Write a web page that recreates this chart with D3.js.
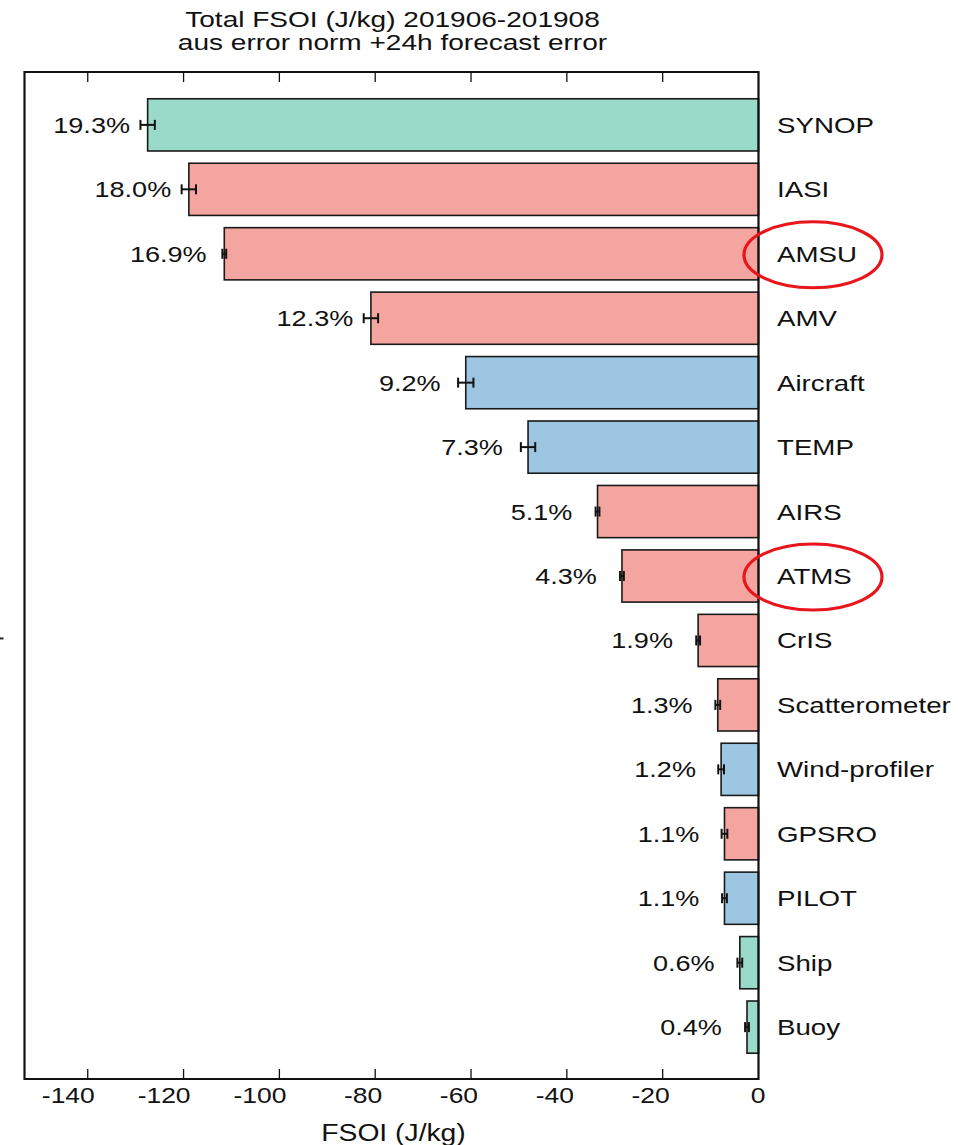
<!DOCTYPE html>
<html>
<head>
<meta charset="utf-8">
<script src="https://cdn.jsdelivr.net/npm/d3@7"></script>
<style>
  body { margin: 0; background: #fff; }
  svg { display: block; }
  text { font-family: "Liberation Sans", Arial, sans-serif; fill: #111; }
</style>
</head>
<body>
<div id="graph_01"></div>
<script>
// Données
const categories = ['SYNOP', 'IASI', 'AMSU', 'AMV', 'Aircraft', 'TEMP', 'AIRS', 'ATMS', 'CrIS',
  'Scatterometer', 'Wind-profiler', 'GPSRO', 'PILOT', 'Ship', 'Buoy'];
const fsoi = [-127.5, -118.9, -111.5, -80.9, -61.1, -48.1, -33.6, -28.5, -12.6, -8.5, -7.8, -7.1, -7.1, -3.9, -2.4];
const errors = [1.5, 1.5, 0.4, 1.5, 1.6, 1.5, 0.4, 0.4, 0.4, 0.5, 0.6, 0.6, 0.5, 0.5, 0.4];
const pctLabels = ['19.3%', '18.0%', '16.9%', '12.3%', '9.2%', '7.3%', '5.1%', '4.3%', '1.9%',
  '1.3%', '1.2%', '1.1%', '1.1%', '0.6%', '0.4%'];
const groups = ['surface', 'sat', 'sat', 'sat', 'upper', 'upper', 'sat', 'sat', 'sat',
  'sat', 'upper', 'sat', 'upper', 'surface', 'surface'];
const highlighted = ['AMSU', 'ATMS'];
const xTicks = [-140, -120, -100, -80, -60, -40, -20, 0];
const titleLines = ['Total FSOI (J/kg) 201906-201908', 'aus error norm +24h forecast error'];
const xTitle = 'FSOI (J/kg)';

const data = categories.map((c, i) => ({
  cat: c, value: fsoi[i], err: errors[i], pct: pctLabels[i], group: groups[i]
}));

//---------------------------------------------------------------------------------------

const width = 958;
const height = 1145;
const frame = { left: 24.5, right: 758.5, top: 72, bottom: 1079 };
const stretch = 1.23; // le texte de l'image d'origine est étiré horizontalement

const svg = d3.select('#graph_01')
  .append('svg')
  .attr('width', width)
  .attr('height', height);

const scaleX = d3.scaleLinear()
  .domain([-153.2, 0])
  .range([frame.left, frame.right]);

const scaleY = d3.scaleBand()
  .domain(categories)
  .range([frame.top + 1, frame.bottom])
  .paddingInner(0.19)
  .paddingOuter(0.4);

const colour = d3.scaleOrdinal()
  .domain(['surface', 'sat', 'upper'])
  .range(['#99dac8', '#f4a5a0', '#9cc6e2']);

// texte étiré
function stretchedText(sel, x, y) {
  return sel.attr('transform', `translate(${x},${y}) scale(${stretch},1)`);
}

//---------------------------------------------------------------------------------------

// Titre
svg.append('g')
  .selectAll('text')
  .data(titleLines)
  .join('text')
  .attr('text-anchor', 'middle')
  .attr('font-size', 22.8)
  .each(function(d, i) {
    stretchedText(d3.select(this), (frame.left + frame.right) / 2 + 1, 26.5 + i * 23.5);
  })
  .text(d => d);

//---------------------------------------------------------------------------------------

// Barres
svg.append('g')
  .selectAll('rect')
  .data(data)
  .join('rect')
  .attr('x', d => scaleX(d.value))
  .attr('y', d => scaleY(d.cat))
  .attr('width', d => scaleX(0) - scaleX(d.value))
  .attr('height', scaleY.bandwidth())
  .attr('fill', d => colour(d.group))
  .attr('stroke', '#1a1a1a')
  .attr('stroke-width', 1.6);

// Barres d'erreur
const errG = svg.append('g')
  .attr('stroke', '#111')
  .attr('stroke-width', 2);

const cy = d => scaleY(d.cat) + scaleY.bandwidth() / 2;

errG.selectAll('line.h')
  .data(data)
  .join('line')
  .attr('class', 'h')
  .attr('x1', d => scaleX(d.value - d.err))
  .attr('x2', d => scaleX(d.value + d.err))
  .attr('y1', cy)
  .attr('y2', cy);

errG.selectAll('line.capL')
  .data(data)
  .join('line')
  .attr('class', 'capL')
  .attr('x1', d => scaleX(d.value - d.err))
  .attr('x2', d => scaleX(d.value - d.err))
  .attr('y1', d => cy(d) - 5)
  .attr('y2', d => cy(d) + 5);

errG.selectAll('line.capR')
  .data(data)
  .join('line')
  .attr('class', 'capR')
  .attr('x1', d => scaleX(d.value + d.err))
  .attr('x2', d => scaleX(d.value + d.err))
  .attr('y1', d => cy(d) - 5)
  .attr('y2', d => cy(d) + 5);

// Pourcentages (centrés à gauche de la barre)
svg.append('g')
  .selectAll('text')
  .data(data)
  .join('text')
  .attr('text-anchor', 'middle')
  .attr('font-size', 22)
  .each(function(d) {
    stretchedText(d3.select(this), scaleX(d.value) - 56, cy(d) + 8);
  })
  .text(d => d.pct);

// Noms des observations
svg.append('g')
  .selectAll('text')
  .data(data)
  .join('text')
  .attr('font-size', 22.5)
  .each(function(d) {
    stretchedText(d3.select(this), 777, cy(d) + 8);
  })
  .text(d => d.cat);

//---------------------------------------------------------------------------------------

// Cadre
svg.append('path')
  .attr('d', `M${frame.right},${frame.top}H${frame.left}V${frame.bottom}H${frame.right}Z`)
  .attr('fill', 'none')
  .attr('stroke', '#111')
  .attr('stroke-width', 2.2);

// Graduations (vers l'intérieur, en haut et en bas)
const tickG = svg.append('g')
  .attr('stroke', '#111')
  .attr('stroke-width', 1.3);

tickG.selectAll('line.top')
  .data(xTicks.filter(t => t !== 0))
  .join('line')
  .attr('class', 'top')
  .attr('x1', d => scaleX(d))
  .attr('x2', d => scaleX(d))
  .attr('y1', frame.top)
  .attr('y2', frame.top + 10);

tickG.selectAll('line.bottom')
  .data(xTicks.filter(t => t !== 0))
  .join('line')
  .attr('class', 'bottom')
  .attr('x1', d => scaleX(d))
  .attr('x2', d => scaleX(d))
  .attr('y1', frame.bottom)
  .attr('y2', frame.bottom - 10);

// étiquettes alignées à droite, légèrement décalées
svg.append('g')
  .selectAll('text')
  .data(xTicks)
  .join('text')
  .attr('text-anchor', 'end')
  .attr('font-size', 21.5)
  .each(function(d) {
    stretchedText(d3.select(this), scaleX(d) + 7, 1103);
  })
  .text(d => d);

stretchedText(svg.append('text'), (frame.left + frame.right) / 2 + 2, 1141)
  .attr('text-anchor', 'middle')
  .attr('font-size', 23)
  .text(xTitle);

// petit trait coupé à gauche
svg.append('line')
  .attr('x1', 0).attr('x2', 3.5)
  .attr('y1', cy(data[8]) - 2).attr('y2', cy(data[8]) - 2)
  .attr('stroke', '#222')
  .attr('stroke-width', 2);

//---------------------------------------------------------------------------------------

// Ellipses rouges de mise en évidence
svg.append('g')
  .selectAll('ellipse')
  .data(data.filter(d => highlighted.includes(d.cat)))
  .join('ellipse')
  .attr('cx', 813)
  .attr('cy', d => cy(d) + 1)
  .attr('rx', 69)
  .attr('ry', 33)
  .attr('fill', 'none')
  .attr('stroke', '#e8161c')
  .attr('stroke-width', 3.2);
</script>
</body>
</html>
